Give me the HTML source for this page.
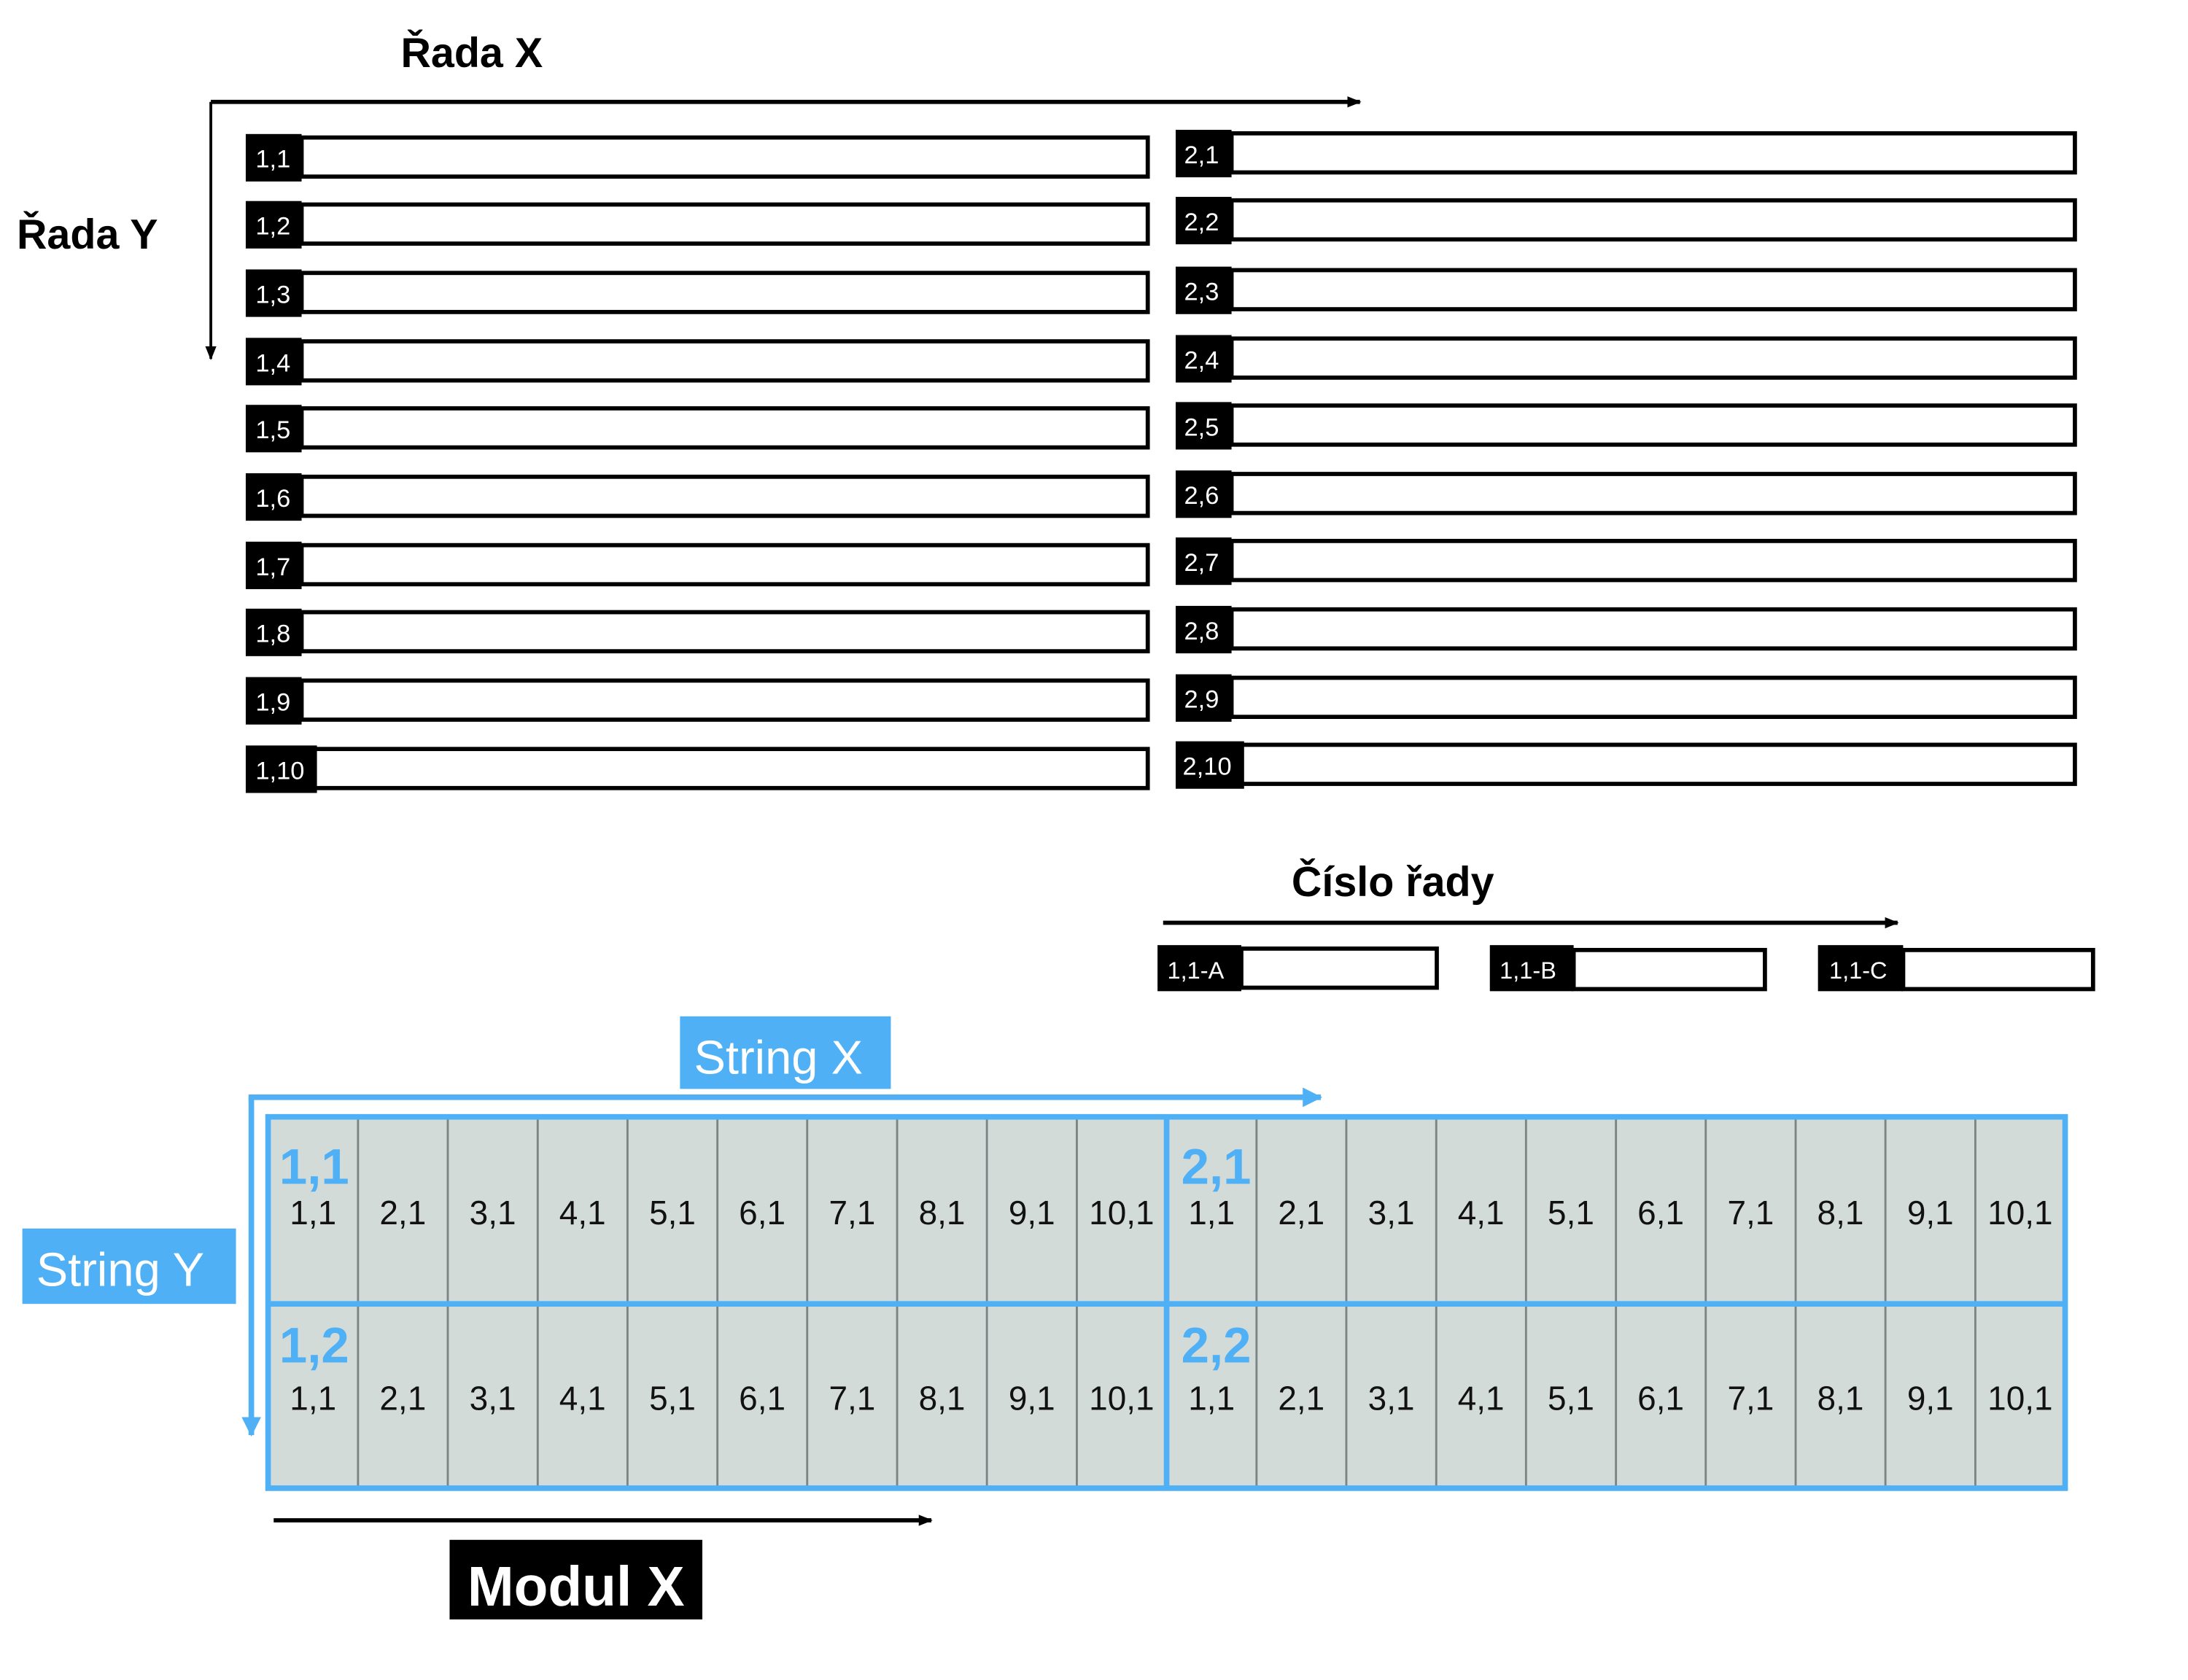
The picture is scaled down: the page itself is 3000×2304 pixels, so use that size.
<!DOCTYPE html>
<html><head><meta charset="utf-8"><style>
html,body{margin:0;padding:0;background:#fff;width:3000px;height:2304px;overflow:hidden}
svg{display:block}
text{font-family:"Liberation Sans",sans-serif}
</style></head><body>
<svg width="3000" height="2304" viewBox="0 0 1567 1203.4" preserveAspectRatio="none" xmlns="http://www.w3.org/2000/svg">
<defs>
<marker id="ab" markerWidth="10" markerHeight="10" refX="9" refY="5" orient="auto" markerUnits="userSpaceOnUse"><path d="M0,1 L10,5 L0,9 Z" fill="#000"/></marker>
<marker id="bb" markerWidth="14" markerHeight="14" refX="13" refY="7" orient="auto" markerUnits="userSpaceOnUse"><path d="M0,0 L14,7 L0,14 Z" fill="#4fb0f5"/></marker>
</defs>
<text x="287" y="48" font-size="30" font-weight="bold">Řada X</text>
<text x="12" y="178" font-size="30" font-weight="bold">Řada Y</text>
<path d="M151,73 H974" stroke="#000" stroke-width="3" fill="none" marker-end="url(#ab)"/>
<path d="M151,73 V257" stroke="#000" stroke-width="2" fill="none" marker-end="url(#ab)"/>
<g stroke="#000" stroke-width="3" fill="#fff">
<rect x="216" y="98.5" width="606" height="28"/><rect x="216" y="146.5" width="606" height="28"/><rect x="216" y="195.5" width="606" height="28"/><rect x="216" y="244.5" width="606" height="28"/><rect x="216" y="292.5" width="606" height="28"/><rect x="216" y="341.5" width="606" height="28"/><rect x="216" y="390.5" width="606" height="28"/><rect x="216" y="438.5" width="606" height="28"/><rect x="216" y="487.5" width="606" height="28"/><rect x="216" y="536.5" width="606" height="28"/>
<rect x="882" y="95.5" width="604" height="28"/><rect x="882" y="143.5" width="604" height="28"/><rect x="882" y="193.5" width="604" height="28"/><rect x="882" y="242.5" width="604" height="28"/><rect x="882" y="290.5" width="604" height="28"/><rect x="882" y="339.5" width="604" height="28"/><rect x="882" y="387.5" width="604" height="28"/><rect x="882" y="436.5" width="604" height="28"/><rect x="882" y="485.5" width="604" height="28"/><rect x="882" y="533.5" width="604" height="28"/>
</g>
<g fill="#000">
<rect x="176" y="96" width="40" height="34"/><rect x="176" y="144" width="40" height="34"/><rect x="176" y="193" width="40" height="34"/><rect x="176" y="242" width="40" height="34"/><rect x="176" y="290" width="40" height="34"/><rect x="176" y="339" width="40" height="34"/><rect x="176" y="388" width="40" height="34"/><rect x="176" y="436" width="40" height="34"/><rect x="176" y="485" width="40" height="34"/><rect x="176" y="534" width="51" height="34"/>
<rect x="842" y="93" width="40" height="34"/><rect x="842" y="141" width="40" height="34"/><rect x="842" y="191" width="40" height="34"/><rect x="842" y="240" width="40" height="34"/><rect x="842" y="288" width="40" height="34"/><rect x="842" y="337" width="40" height="34"/><rect x="842" y="385" width="40" height="34"/><rect x="842" y="434" width="40" height="34"/><rect x="842" y="483" width="40" height="34"/><rect x="842" y="531" width="49" height="34"/>
</g>
<g fill="#fff" font-size="18">
<text x="183" y="120">1,1</text><text x="183" y="168">1,2</text><text x="183" y="217">1,3</text><text x="183" y="266">1,4</text><text x="183" y="314">1,5</text><text x="183" y="363">1,6</text><text x="183" y="412">1,7</text><text x="183" y="460">1,8</text><text x="183" y="509">1,9</text><text x="183" y="558">1,10</text>
<text x="848" y="117">2,1</text><text x="848" y="165">2,2</text><text x="848" y="215">2,3</text><text x="848" y="264">2,4</text><text x="848" y="312">2,5</text><text x="848" y="361">2,6</text><text x="848" y="409">2,7</text><text x="848" y="458">2,8</text><text x="848" y="507">2,9</text><text x="847" y="555">2,10</text>
</g>
<text x="925" y="642" font-size="30" font-weight="bold">Číslo řady</text>
<path d="M833,661 H1359" stroke="#000" stroke-width="3" fill="none" marker-end="url(#ab)"/>
<g stroke="#000" stroke-width="3" fill="#fff">
<rect x="889" y="679.5" width="140" height="28"/><rect x="1127" y="680.5" width="137" height="28"/><rect x="1363" y="680.5" width="136" height="28"/>
</g>
<g fill="#000"><rect x="829" y="677" width="60" height="33"/><rect x="1067" y="677" width="60" height="33"/><rect x="1302" y="677" width="61" height="33"/></g>
<g fill="#fff" font-size="17"><text x="836" y="701">1,1-A</text><text x="1074" y="701">1,1-B</text><text x="1310" y="701">1,1-C</text></g>
<rect x="487" y="728" width="151" height="52" fill="#4fb0f5"/>
<text x="497" y="769" font-size="34" fill="#fff">String X</text>
<rect x="16" y="880" width="153" height="54" fill="#4fb0f5"/>
<text x="26" y="921" font-size="34" fill="#fff">String Y</text>
<path d="M178,786 H946" stroke="#4fb0f5" stroke-width="4" fill="none" marker-end="url(#bb)"/>
<path d="M180,786 V1028" stroke="#4fb0f5" stroke-width="4" fill="none" marker-end="url(#bb)"/>
<rect x="192" y="800" width="1287" height="266" fill="#d3dbd9"/>
<g stroke="#7a8584" stroke-width="1.5">
<line x1="256.4" y1="800" x2="256.4" y2="1066"/><line x1="320.7" y1="800" x2="320.7" y2="1066"/><line x1="385.1" y1="800" x2="385.1" y2="1066"/><line x1="449.4" y1="800" x2="449.4" y2="1066"/><line x1="513.8" y1="800" x2="513.8" y2="1066"/><line x1="578.1" y1="800" x2="578.1" y2="1066"/><line x1="642.5" y1="800" x2="642.5" y2="1066"/><line x1="706.8" y1="800" x2="706.8" y2="1066"/><line x1="771.2" y1="800" x2="771.2" y2="1066"/>
<line x1="899.9" y1="800" x2="899.9" y2="1066"/><line x1="964.2" y1="800" x2="964.2" y2="1066"/><line x1="1028.6" y1="800" x2="1028.6" y2="1066"/><line x1="1092.9" y1="800" x2="1092.9" y2="1066"/><line x1="1157.3" y1="800" x2="1157.3" y2="1066"/><line x1="1221.6" y1="800" x2="1221.6" y2="1066"/><line x1="1286" y1="800" x2="1286" y2="1066"/><line x1="1350.3" y1="800" x2="1350.3" y2="1066"/><line x1="1414.7" y1="800" x2="1414.7" y2="1066"/>
</g>
<g stroke="#4fb0f5" stroke-width="4" fill="none">
<rect x="192" y="800" width="1287" height="266"/>
<line x1="192" y1="934" x2="1479" y2="934"/>
<line x1="835.5" y1="800" x2="835.5" y2="1066"/>
</g>
<g fill="#4fb0f5" font-size="36" font-weight="bold">
<text x="200" y="848">1,1</text><text x="200" y="976">1,2</text><text x="846" y="848">2,1</text><text x="846" y="976">2,2</text>
</g>
<g font-size="24" fill="#111" text-anchor="middle">
<text x="224.2" y="877">1,1</text><text x="288.5" y="877">2,1</text><text x="352.9" y="877">3,1</text><text x="417.2" y="877">4,1</text><text x="481.6" y="877">5,1</text><text x="545.9" y="877">6,1</text><text x="610.3" y="877">7,1</text><text x="674.6" y="877">8,1</text><text x="739" y="877">9,1</text><text x="803.3" y="877">10,1</text>
<text x="867.7" y="877">1,1</text><text x="932" y="877">2,1</text><text x="996.4" y="877">3,1</text><text x="1060.7" y="877">4,1</text><text x="1125.1" y="877">5,1</text><text x="1189.4" y="877">6,1</text><text x="1253.8" y="877">7,1</text><text x="1318.1" y="877">8,1</text><text x="1382.5" y="877">9,1</text><text x="1446.8" y="877">10,1</text>
<text x="224.2" y="1010">1,1</text><text x="288.5" y="1010">2,1</text><text x="352.9" y="1010">3,1</text><text x="417.2" y="1010">4,1</text><text x="481.6" y="1010">5,1</text><text x="545.9" y="1010">6,1</text><text x="610.3" y="1010">7,1</text><text x="674.6" y="1010">8,1</text><text x="739" y="1010">9,1</text><text x="803.3" y="1010">10,1</text>
<text x="867.7" y="1010">1,1</text><text x="932" y="1010">2,1</text><text x="996.4" y="1010">3,1</text><text x="1060.7" y="1010">4,1</text><text x="1125.1" y="1010">5,1</text><text x="1189.4" y="1010">6,1</text><text x="1253.8" y="1010">7,1</text><text x="1318.1" y="1010">8,1</text><text x="1382.5" y="1010">9,1</text><text x="1446.8" y="1010">10,1</text>
</g>
<path d="M196,1089 H667" stroke="#000" stroke-width="3" fill="none" marker-end="url(#ab)"/>
<rect x="322" y="1103" width="181" height="57" fill="#000"/>
<text x="412.5" y="1150" font-size="40" font-weight="bold" fill="#fff" text-anchor="middle">Modul X</text>
</svg>
</body></html>
